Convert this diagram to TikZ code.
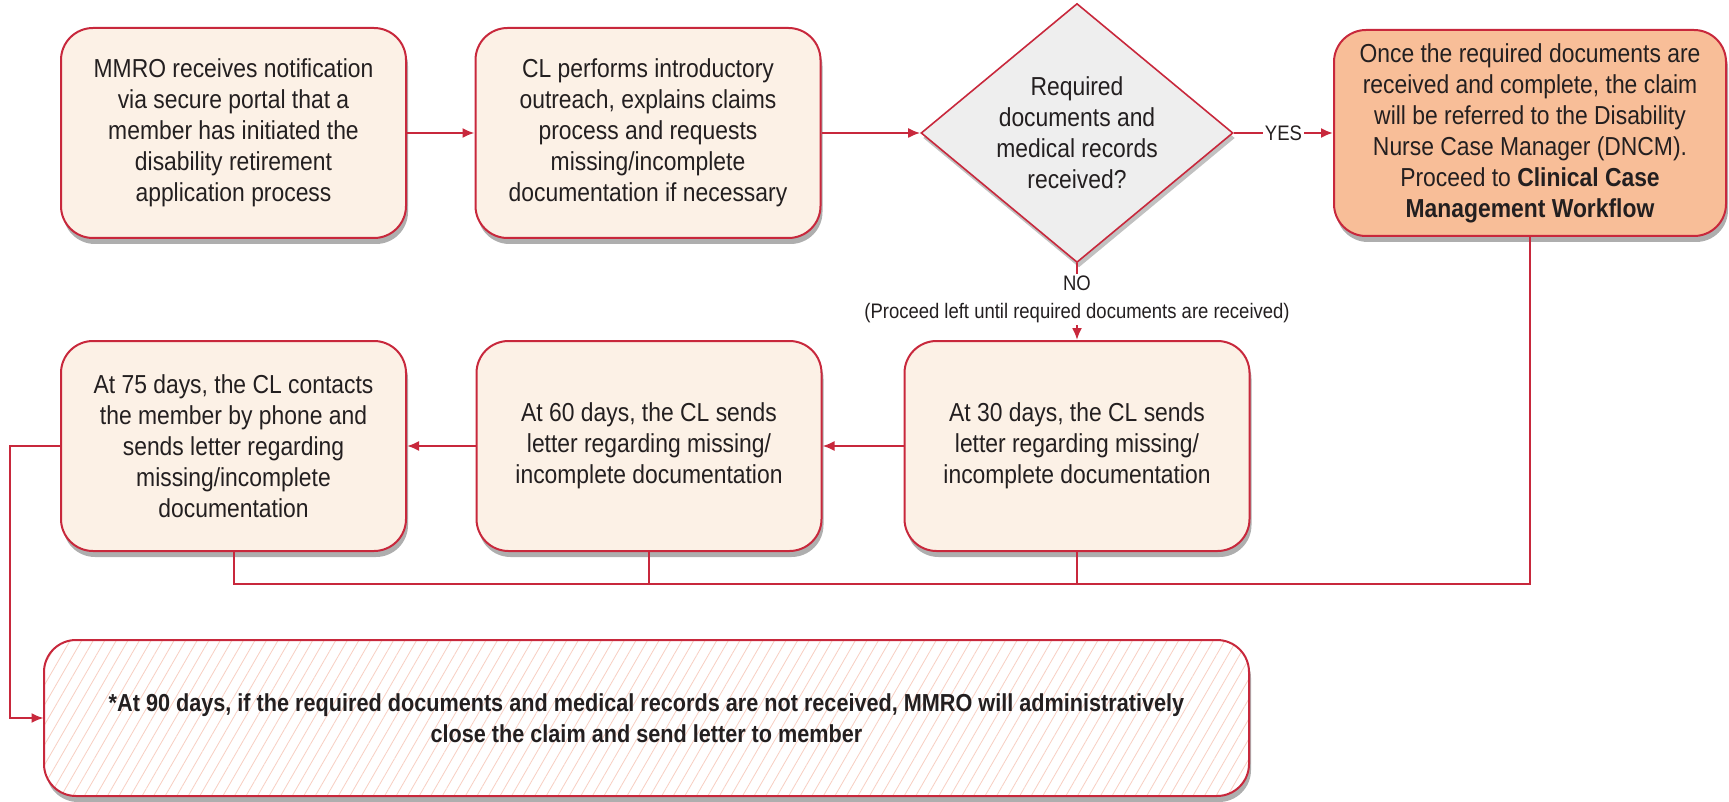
\documentclass[tikz,border=0pt]{standalone}
\usepackage{fontspec}
\setmainfont{Liberation Sans}[FakeStretch=0.88]
\usepackage{xcolor}
\usepackage{tikz}
\usetikzlibrary{arrows.meta, shapes.geometric, shadows, patterns.meta}
\definecolor{MainRed}{HTML}{C8283C}
\definecolor{cream}{HTML}{FCF1E6}
\definecolor{salmon}{HTML}{F8BE98}
\definecolor{lightgrey}{HTML}{EEEEEE}
\definecolor{hatch}{HTML}{F8CFC2}
\definecolor{textgrey}{HTML}{231F20}
\tikzset{
  >=latex,  % frecce di default
  % Riquadri del flusso
  box/.style={draw=MainRed,line width=1pt,rounded corners=16pt,align=center,text=textgrey,
    font=\fontsize{13}{15.5}\selectfont,inner sep=2pt,
    drop shadow={shadow xshift=1pt,shadow yshift=-3pt,opacity=0.45,fill=black!70}},
  box step/.style={box,fill=cream,minimum width=172.5pt,minimum height=105pt},
  box final/.style={box,fill=salmon,minimum width=196pt,minimum height=103pt},
  box close/.style={box,preaction={fill=white},pattern={Lines[angle=60,distance=5pt,line width=0.4pt]},
    pattern color=hatch,minimum width=602.5pt,minimum height=78pt,font=\bfseries\fontsize{12.3}{15.5}\selectfont},
  box decision/.style={diamond,aspect=1.2,draw=MainRed,line width=0.8pt,fill=lightgrey,align=center,
    text=textgrey,font=\fontsize{13}{15.5}\selectfont,inner sep=0pt,minimum width=156pt,minimum height=129.5pt,
    drop shadow={shadow xshift=1pt,shadow yshift=-2.5pt,opacity=0.35,fill=black!70}},
  % Connessioni
  connect/.style={line width=1pt,MainRed},
  connect arrow/.style={-{Latex[length=6,width=5]},line width=1pt,MainRed},
  tag/.style={fill=white,inner sep=1pt,align=center,text=textgrey,font=\fontsize{10.5}{14}\selectfont}
}
\begin{document}
\begin{tikzpicture}[x=0.5pt,y=-0.5pt]
  \useasboundingbox (0,0) rectangle (1729,802);
  % prima riga
  \node[box step] (mmro) at (233.5,133) {MMRO receives notification\\via secure portal that a\\member has initiated the\\disability retirement\\application process};
  \node[box step] (outreach) at (648,133) {CL performs introductory\\outreach, explains claims\\process and requests\\missing/incomplete\\documentation if necessary};
  \node[box decision] (check) at (1077,133) {Required\\documents and\\medical records\\received?};
  \node[box final] (dncm) at (1530,133) {Once the required documents are\\received and complete, the claim\\will be referred to the Disability\\Nurse Case Manager (DNCM).\\Proceed to \textbf{Clinical Case}\\\textbf{Management Workflow}};
  % seconda riga
  \node[box step] (day30) at (1077,446) {At 30 days, the CL sends\\letter regarding missing/\\incomplete documentation};
  \node[box step] (day60) at (649,446) {At 60 days, the CL sends\\letter regarding missing/\\incomplete documentation};
  \node[box step] (day75) at (233.5,446) {At 75 days, the CL contacts\\the member by phone and\\sends letter regarding\\missing/incomplete\\documentation};
  % chiusura
  \node[box close] (close) at (646.5,718) {*At 90 days, if the required documents and medical records are not received, MMRO will administratively\\close the claim and send letter to member};
  \coordinate (bus) at (0,584);

  \draw[connect arrow] (mmro) -- (outreach);
  \draw[connect arrow] (outreach.east) -- (check.west);
  \draw[connect arrow] (check) -- node[tag] {YES} (dncm);
  \draw[connect arrow] (check) -- node[tag,pos=0.47] {NO\\(Proceed left until required documents are received)} (day30);
  \draw[connect arrow] (day30) -- (day60);
  \draw[connect arrow] (day60) -- (day75);
  \draw[connect] (day75.south) |- (bus -| day60.south) -- (day60.south);
  \draw[connect] (day60.south |- bus) -| (day30.south);
  \draw[connect] (day30.south |- bus) -| (dncm.south);
  \draw[connect arrow] (day75.west) -- ++(-50,0) |- (close.west);
\end{tikzpicture}
\end{document}
